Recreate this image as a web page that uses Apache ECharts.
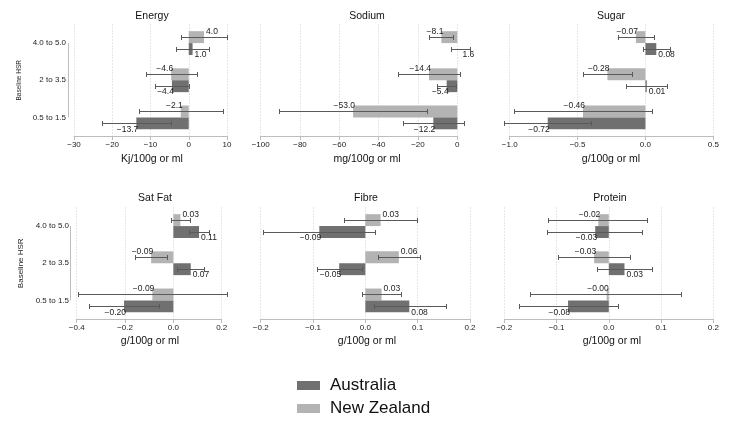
<!DOCTYPE html>
<html><head><meta charset="utf-8">
<script src="https://cdn.jsdelivr.net/npm/echarts@6/dist/echarts.min.js"></script>
<style>html,body{margin:0;padding:0;background:#fff}#c{width:740px;height:424px}</style>
</head><body><div id="c"></div>
<script>
// ---------- data ----------
const categories = ['0.5 to 1.5', '2 to 3.5', '4.0 to 5.0'];
const panelTitles = ['Energy', 'Sodium', 'Sugar', 'Sat Fat', 'Fibre', 'Protein'];
const axisTitles = ['Kj/100g or ml', 'mg/100g or ml', 'g/100g or ml', 'g/100g or ml', 'g/100g or ml', 'g/100g or ml'];
const seriesNames = ['Australia', 'New Zealand'];
const yAxisTitle = 'Baseline HSR';

const energyAU = [-13.7, -4.4, 1.0];
const energyNZ = [-2.1, -4.6, 4.0];
const energyAUci = [[-22.7, -4.7], [-8.8, 0.05], [-3.3, 5.2]];
const energyNZci = [[-13.1, 8.9], [-11.2, 2.1], [-1.9, 10.0]];

const sodiumAU = [-12.2, -5.4, 1.6];
const sodiumNZ = [-53.0, -14.4, -8.1];
const sodiumAUci = [[-27.7, 3.3], [-10.2, -0.6], [-3.4, 6.6]];
const sodiumNZci = [[-90.7, -15.3], [-30.4, 1.6], [-14.2, -2.0]];

const sugarAU = [-0.72, 0.01, 0.08];
const sugarNZ = [-0.46, -0.28, -0.07];
const sugarAUci = [[-1.04, -0.40], [-0.14, 0.16], [-0.02, 0.18]];
const sugarNZci = [[-0.97, 0.05], [-0.46, -0.10], [-0.20, 0.06]];

const satfatAU = [-0.204, 0.072, 0.106];
const satfatNZ = [-0.087, -0.092, 0.029];
const satfatAUci = [[-0.35, -0.058], [0.015, 0.128], [0.066, 0.146]];
const satfatNZci = [[-0.395, 0.221], [-0.158, -0.027], [-0.011, 0.069]];

const fibreAU = [0.084, -0.05, -0.088];
const fibreNZ = [0.031, 0.064, 0.029];
const fibreAUci = [[0.016, 0.155], [-0.093, -0.006], [-0.196, 0.018]];
const fibreNZci = [[-0.006, 0.068], [0.025, 0.104], [-0.040, 0.099]];

const proteinAU = [-0.078, 0.030, -0.026];
const proteinNZ = [-0.004, -0.028, -0.020];
const proteinAUci = [[-0.172, 0.018], [-0.022, 0.083], [-0.119, 0.064]];
const proteinNZci = [[-0.150, 0.139], [-0.098, 0.041], [-0.116, 0.074]];

const axisMin = [-30, -100, -1, -0.4, -0.2, -0.2];
const axisMax = [10, 0, 0.5, 0.2, 0.2, 0.2];
const axisStep = [10, 20, 0.5, 0.2, 0.1, 0.1];
const tickDecimals = [0, 0, 1, 1, 1, 1];
const valueDecimals = [1, 1, 2, 2, 2, 2];

const panelAU = [energyAU, sodiumAU, sugarAU, satfatAU, fibreAU, proteinAU];
const panelNZ = [energyNZ, sodiumNZ, sugarNZ, satfatNZ, fibreNZ, proteinNZ];
const panelAUci = [energyAUci, sodiumAUci, sugarAUci, satfatAUci, fibreAUci, proteinAUci];
const panelNZci = [energyNZci, sodiumNZci, sugarNZci, satfatNZci, fibreNZci, proteinNZci];

// ---------- layout & style ----------
const FONT = '"Liberation Sans", Arial, Helvetica, sans-serif';
const AU_COLOR = '#707070';
const NZ_COLOR = '#b3b3b3';
const ERR_COLOR = '#5a5a5a';
const AXIS_COLOR = '#bdbdbd';
const BAR_FRAC = 0.32;
const gridLeft = [74, 260.7, 509.7, 76.7, 260.7, 504.3];
const gridWidth = [153, 196.6, 203.6, 145, 209.3, 209];
const rowTop = [24.5, 207.5];
const gridHeight = 111.5;
const titlePos = [[152, 16], [367, 16], [611, 16], [155, 198], [366, 198], [610, 198]];
const axisTitlePos = [[152, 159], [367, 159], [611, 159], [150, 341], [367, 341], [612, 341]];
const yAxisOffset = [6, 0, 0, 6.7, 0, 0];
const legendTops = [372, 395];

function fmt(v, d) {
  return v.toFixed(d).replace('-', '\u2212');
}

const grids = [], xAxes = [], yAxes = [], series = [], graphics = [];

for (let i = 0; i < 6; i++) {
  const row = i < 3 ? 0 : 1;
  const left = i === 0 || i === 3;
  grids.push({left: gridLeft[i], top: rowTop[row], width: gridWidth[i], height: gridHeight});
  xAxes.push({
    type: 'value', gridIndex: i, min: axisMin[i], max: axisMax[i], interval: axisStep[i],
    axisLine: {show: true, lineStyle: {color: AXIS_COLOR, width: 1}},
    axisTick: {show: true, length: 4, lineStyle: {color: AXIS_COLOR}},
    axisLabel: {color: '#222', fontSize: 8, fontFamily: FONT, margin: 5,
      formatter: (v) => fmt(v, tickDecimals[i])},
    splitLine: {show: true, lineStyle: {type: [1, 2], color: '#cfcfcf', width: 1}}
  });
  yAxes.push({
    type: 'category', gridIndex: i, data: categories,
    offset: yAxisOffset[i],
    axisLine: {show: false}, axisTick: {show: false},
    axisLabel: {show: left, color: '#222', fontSize: 8, fontFamily: FONT, margin: row === 0 ? 2 : 1},
    splitLine: {show: false},
    name: left ? yAxisTitle : '',
    nameLocation: 'middle', nameRotate: 90,
    nameGap: 45,
    nameTextStyle: {color: '#222', fontSize: row === 0 ? 6.5 : 8, fontFamily: FONT}
  });

  series.push({
    type: 'bar', name: seriesNames[1], xAxisIndex: i, yAxisIndex: i,
    data: panelNZ[i], barWidth: (BAR_FRAC * 100) + '%', barGap: '0%',
    itemStyle: {color: NZ_COLOR}, silent: true
  });
  series.push({
    type: 'bar', name: seriesNames[0], xAxisIndex: i, yAxisIndex: i,
    data: panelAU[i], barWidth: (BAR_FRAC * 100) + '%', barGap: '0%',
    itemStyle: {color: AU_COLOR}, silent: true
  });

  const errData = [];
  for (let k = 0; k < categories.length; k++) {
    errData.push([panelAU[i][k], k, panelAUci[i][k][0], panelAUci[i][k][1], 0]);
    errData.push([panelNZ[i][k], k, panelNZci[i][k][0], panelNZci[i][k][1], 1]);
  }
  series.push({
    type: 'custom', xAxisIndex: i, yAxisIndex: i, silent: true, z: 5,
    encode: {x: 0, y: 1},
    data: errData,
    renderItem: (params, api) => {
      const v = api.value(0), cat = api.value(1), lo = api.value(2), hi = api.value(3), country = api.value(4);
      const c = api.coord([0, cat]);
      const band = api.size([0, 1])[1];
      const bw = band * BAR_FRAC;
      const yc = c[1] + (country === 0 ? bw / 2 : -bw / 2);
      const yy = Math.round(yc) + 0.5;
      const pLo = api.coord([lo, cat])[0], pHi = api.coord([hi, cat])[0];
      const pV = api.coord([v, cat])[0];
      const ly = country === 0 ? yc + bw / 2 : yc - bw / 2;
      const st = {stroke: ERR_COLOR, lineWidth: 1};
      const xl = Math.round(pLo) + 0.5, xh = Math.round(pHi) + 0.5;
      return {type: 'group', children: [
        {type: 'line', shape: {x1: xl, y1: yy, x2: xh, y2: yy}, style: st},
        {type: 'line', shape: {x1: xl, y1: yy - 2.5, x2: xl, y2: yy + 2.5}, style: st},
        {type: 'line', shape: {x1: xh, y1: yy - 2.5, x2: xh, y2: yy + 2.5}, style: st},
        {type: 'text', style: {x: pV + 2, y: ly, text: fmt(v, valueDecimals[i]),
          align: v < 0 ? 'right' : 'left', verticalAlign: 'middle',
          fontSize: 8.5, fontFamily: FONT, fill: '#222'}}
      ]};
    }
  });

  if (left) {
    series.push({
      type: 'custom', xAxisIndex: i, yAxisIndex: i, silent: true,
      encode: {x: 0, y: 1}, data: [[axisMin[i], 0]],
      renderItem: (params, api) => {
        const cs = params.coordSys;
        const yA = api.coord([axisMin[i], 0])[1];
        const yB = api.coord([axisMin[i], categories.length - 1])[1];
        const x = Math.round(cs.x - yAxisOffset[i]) + 0.5;
        return {type: 'line', shape: {x1: x, y1: yB, x2: x, y2: yA}, style: {stroke: AXIS_COLOR, lineWidth: 1}};
      }
    });
  }

  graphics.push({type: 'text', x: titlePos[i][0], y: titlePos[i][1],
    style: {text: panelTitles[i], align: 'center', verticalAlign: 'middle', fontSize: 10.5, fontFamily: FONT, fill: '#111'}});
  graphics.push({type: 'text', x: axisTitlePos[i][0], y: axisTitlePos[i][1],
    style: {text: axisTitles[i], align: 'center', verticalAlign: 'middle', fontSize: 10.5, fontFamily: FONT, fill: '#111'}});
}

const legends = seriesNames.map((name, j) => ({
  data: [name], orient: 'vertical', left: 292, top: legendTops[j],
  itemWidth: 23, itemHeight: 9, icon: 'rect', selectedMode: false,
  textStyle: {fontSize: 17, fontFamily: FONT, color: '#111', padding: [0, 0, 0, 5]}
}));

const chart = echarts.init(document.getElementById('c'), null, {renderer: 'canvas'});
chart.setOption({
  animation: false,
  backgroundColor: '#fff',
  color: [NZ_COLOR, AU_COLOR],
  grid: grids, xAxis: xAxes, yAxis: yAxes, series: series,
  legend: legends,
  graphic: graphics
});
</script></body></html>
